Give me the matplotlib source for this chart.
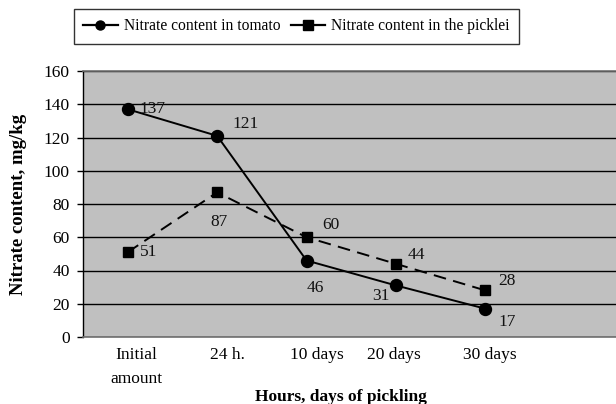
import matplotlib
matplotlib.use("Agg")
import matplotlib.pyplot as plt
import matplotlib.transforms as mtransforms
from matplotlib.lines import Line2D

plt.rcParams['font.family'] = ['Liberation Serif', 'DejaVu Serif']

categories = ["Initial\namount", "24 h.", "10 days", "20 days", "30 days"]
tomato = [137, 121, 46, 31, 17]
pickle = [51, 87, 60, 44, 28]
series_names = ["Nitrate content in tomato", "Nitrate content in the picklei"]
yticks = [0, 20, 40, 60, 80, 100, 120, 140, 160]

# label offsets in pixels (style only)
tomato_off = [(12, 0, 'left'), (15, 12, 'left'), (0, -27, 'left'), (-24, -11, 'left'), (13, -13, 'left')]
pickle_off = [(12, 0, 'left'), (2, -30, 'center'), (16, 12, 'left'), (12, 9, 'left'), (13, 9, 'left')]
tick_shift = [9, 10, 10, -2, 4]

W, H = 616, 404
fig = plt.figure(figsize=(W / 100, H / 100), dpi=100)
ax = fig.add_axes([83 / W, 1 - 337 / H, 1 - 83 / W, (337 - 71) / H])
ax.set_facecolor('#C0C0C0')

x = list(range(len(categories)))
ax.plot(x, tomato, color='black', lw=1.4, marker='o', ms=8.6, zorder=3)
ax.plot(x, pickle, color='black', lw=1.4, ls=(0, (6.5, 3.8)), marker='s', ms=7.6, zorder=3)

for xi, v, (dx, dy, ha) in zip(x, tomato, tomato_off):
    ax.annotate(str(v), (xi, v), xytext=(dx, dy), textcoords='offset pixels',
                ha=ha, va='center', fontsize=12.5, color='#111111')
for xi, v, (dx, dy, ha) in zip(x, pickle, pickle_off):
    ax.annotate(str(v), (xi, v), xytext=(dx, dy), textcoords='offset pixels',
                ha=ha, va='center', fontsize=12.5, color='#111111')

ax.set_xlim(-0.5, 5.46)
ax.set_ylim(0, 160)
ax.set_yticks(yticks)
ax.set_yticklabels([str(t) for t in yticks], fontsize=12.5)
ax.set_xticks(x)
ax.set_xticklabels([])
ax.tick_params(axis='x', length=0)
ax.tick_params(axis='y', length=4.5, width=1, direction='out', pad=5, color='black')

base = mtransforms.blended_transform_factory(ax.transData, ax.transAxes)
for xi, lab, s in zip(x, categories, tick_shift):
    tr = base + mtransforms.ScaledTranslation(s / 100, -10 / 100, fig.dpi_scale_trans)
    ax.text(xi, 0, lab, transform=tr, ha='center', va='top', fontsize=12.5,
            linespacing=1.7, multialignment='center')

ax.set_axisbelow(True)
ax.yaxis.grid(True, color='black', lw=1)
ax.xaxis.grid(False)

ax.spines['left'].set_color('black')
ax.spines['left'].set_linewidth(1)
for s in ['top', 'bottom']:
    ax.spines[s].set_color('#707070')
    ax.spines[s].set_linewidth(1.2)
ax.spines['right'].set_visible(False)

ax.set_ylabel("Nitrate content, mg/kg", fontsize=13.5, fontweight='bold')
ax.yaxis.set_label_coords(-(83 - 27) / 533, 0.5)
ax.set_xlabel("Hours, days of pickling", fontsize=12.5, fontweight='bold')
ax.xaxis.set_label_coords((341 - 83) / 533, -(397 - 337) / 266)
ax.xaxis.label.set_va('center')

h1 = Line2D([], [], color='black', lw=1.6, marker='o', ms=6.5)
h2 = Line2D([], [], color='black', lw=1.6, marker='s', ms=6.5)
leg = fig.legend(handles=[h1, h2], labels=series_names, loc='upper left',
                 bbox_to_anchor=(74 / W, 1 - 9 / H),
                 ncol=2, fontsize=11.2, frameon=True, fancybox=False, edgecolor='black',
                 borderaxespad=0, handlelength=2.2, columnspacing=0.65, handletextpad=0.4,
                 borderpad=0.6)
leg.get_frame().set_linewidth(1)

fig.savefig("out.png", dpi=100)
